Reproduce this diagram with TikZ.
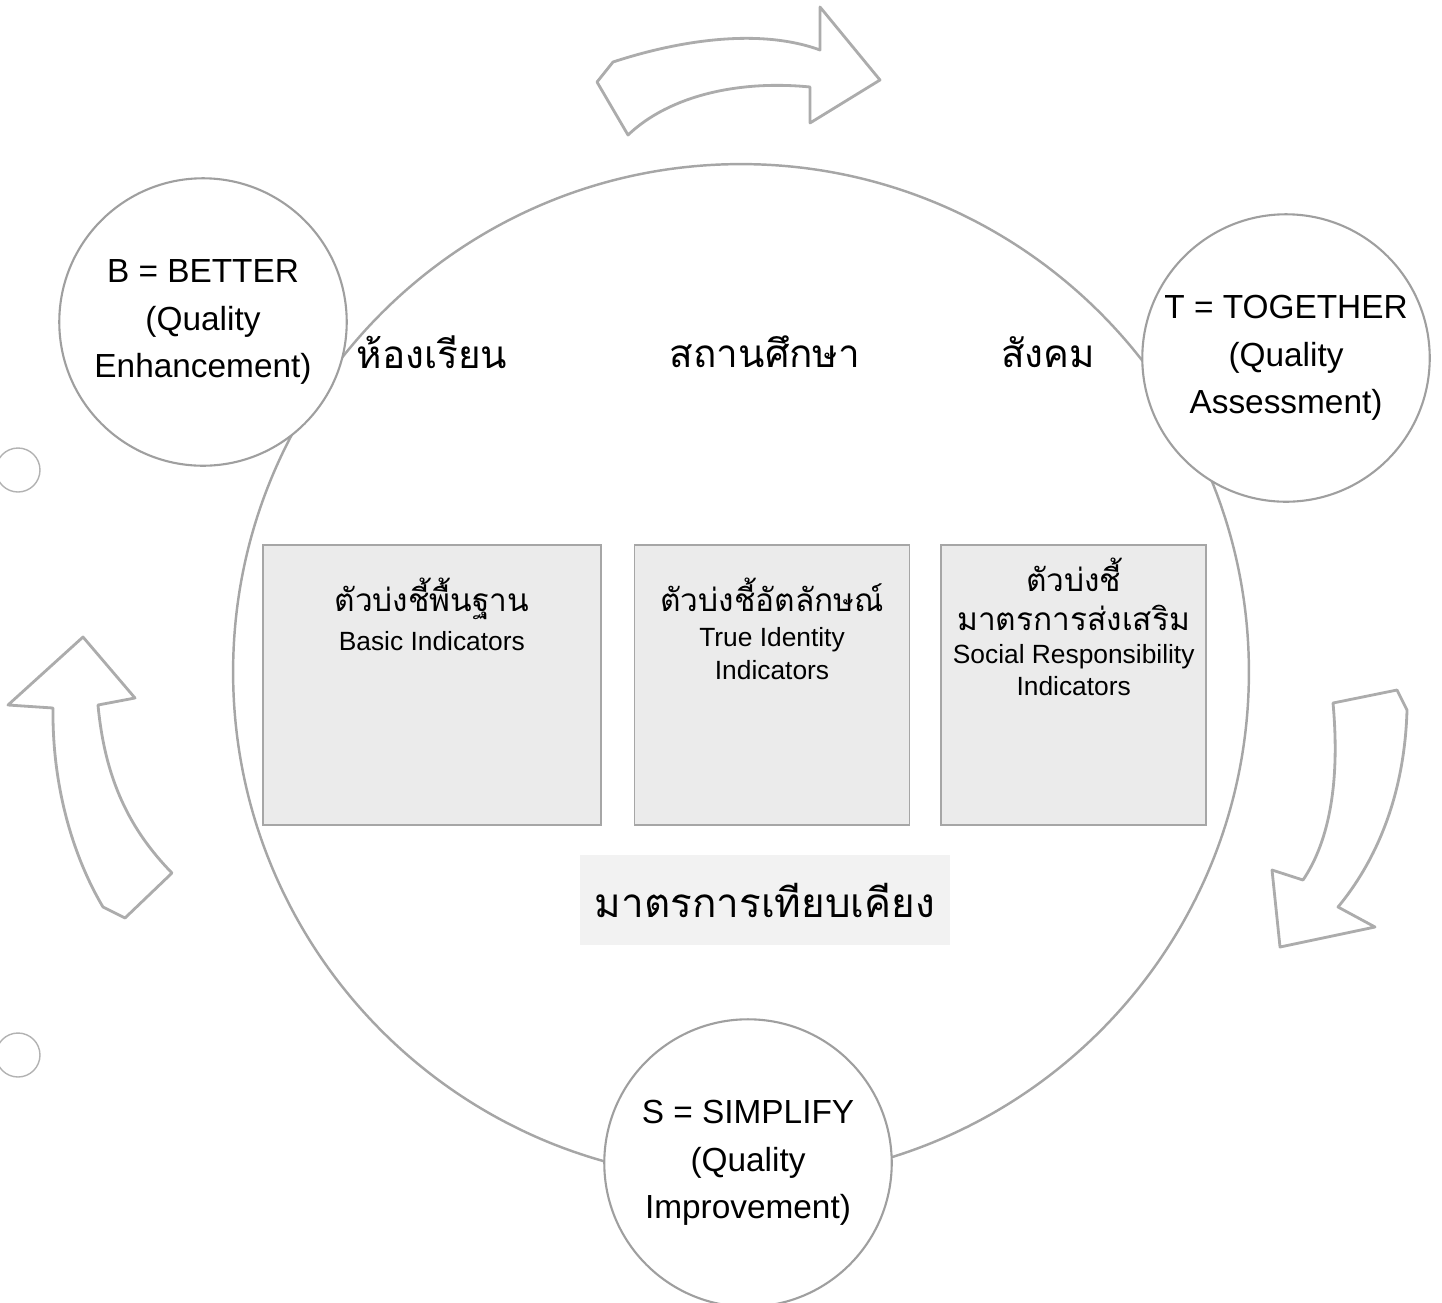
\documentclass[tikz,border=0pt]{standalone}
\usepackage{fontspec}
\setmainfont{Liberation Sans}
\newfontfamily\thaifont[Script=Thai]{Loma}
\usetikzlibrary{positioning}

\begin{document}
\begin{tikzpicture}[
        x=0.02cm, y=-0.02cm,
        font=\fontsize{19}{27}\selectfont,
        node distance=6mm and 6.2mm,
        ring/.style={draw=gray!70, line width=1.4pt},
        stage/.style={
            circle, draw=gray!75, line width=1.2pt,
            fill=white, minimum size=5.75cm,
            align=center, inner sep=0pt
        },
        indbox/.style={
            draw=gray!70, line width=1pt,
            fill=gray!16,
            minimum height=5.6cm
        },
        indtext/.style={
            align=center, anchor=north,
            font=\fontsize{15}{19}\selectfont
        },
        place/.style={font=\thaifont\fontsize{22}{26}\selectfont},
        bigarrow/.style={
            draw=gray!65, line width=1.6pt,
            fill=white, line join=round
        },
        hole/.style={draw=gray!60, line width=0.8pt}
    ]

    \useasboundingbox (0,0) rectangle (1442,1302);

    % outer cycle
    \draw[ring] (741,672) circle[radius=10.16cm];

    % cycle arrows
    \draw[bigarrow] (597,82) -- (613,62) .. controls (680,40) and (760,28) .. (820,50)
        -- (820,7) -- (880,80) -- (810,123) -- (810,87)
        .. controls (740,80) and (670,95) .. (628,135) -- cycle;
    \draw[bigarrow] (1397,690) -- (1333,703) .. controls (1340,780) and (1330,840) .. (1303,880)
        -- (1272,870) -- (1280,947) -- (1375,927) -- (1338,907)
        .. controls (1385,850) and (1405,780) .. (1407,710) -- cycle;
    \draw[bigarrow] (83,637) -- (135,698) -- (98,705) .. controls (105,780) and (130,830) .. (172,873)
        -- (125,918) -- (103,907) .. controls (75,860) and (52,790) .. (53,708)
        -- (8,705) -- cycle;

    % BTS stages
    \node[stage] (better) at (203,322) {B = BETTER\\(Quality\\Enhancement)};
    \node[stage] (together) at (1286,358) {T = TOGETHER\\(Quality\\Assessment)};
    \node[stage] (simplify) at (748,1163) {S = SIMPLIFY\\(Quality\\Improvement)};

    % levels
    \node[place] (classroom) at (432,352) {ห้องเรียน};
    \node[place] (school) at (765,352) {สถานศึกษา};
    \node[place] (society) at (1048,352) {สังคม};

    % indicator boxes
    \node[indbox, minimum width=5.5cm] (identity) at (772,685) {};
    \node[indbox, minimum width=6.76cm, left=6.4mm of identity] (basic) {};
    \node[indbox, minimum width=5.3cm, right=6mm of identity] (social) {};

    \node[indtext] (basictxt) at ([yshift=-5.5mm]basic.north)
        {{\thaifont\fontsize{18}{22}\selectfont ตัวบ่งชี้พื้นฐาน}\\[3pt]Basic Indicators};
    \node[indtext] (identitytxt) at ([yshift=-5.5mm]identity.north)
        {{\thaifont\fontsize{18}{22}\selectfont ตัวบ่งชี้อัตลักษณ์}\\[1pt]True Identity\\[0pt]Indicators};
    \node[indtext] (socialtxt) at ([yshift=-1.5mm]social.north)
        {{\thaifont\fontsize{18}{22}\selectfont ตัวบ่งชี้}\\[3pt]{\thaifont\fontsize{18}{22}\selectfont มาตรการส่งเสริม}\\[0pt]Social Responsibility\\[-1pt]Indicators};

    % benchmark
    \node[place, font=\thaifont\fontsize{23}{27}\selectfont, fill=gray!10,
        minimum width=7.4cm, minimum height=1.8cm] (bench) at (765,900)
        {มาตรการเทียบเคียง};

    % punched holes
    \draw[hole] (18,470) circle[radius=0.44cm];
    \draw[hole] (18,1055) circle[radius=0.44cm];

\end{tikzpicture}
\end{document}
